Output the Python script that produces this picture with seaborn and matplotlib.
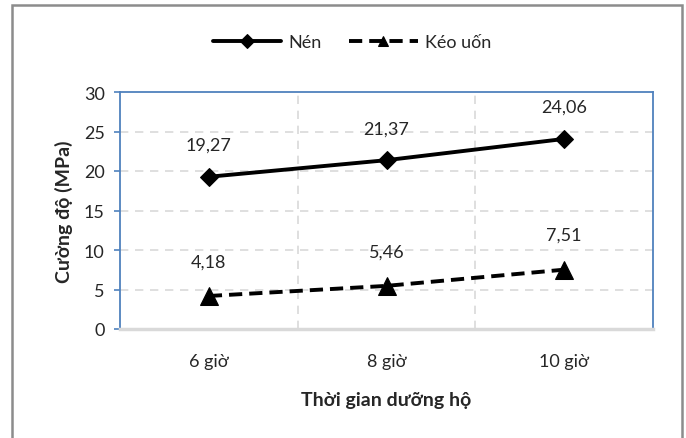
import matplotlib
matplotlib.use("Agg")
import matplotlib.pyplot as plt
import seaborn as sns
import pandas as pd
from matplotlib.patches import Rectangle

categories = ["6 giờ", "8 giờ", "10 giờ"]
nen = [19.27, 21.37, 24.06]
keo_uon = [4.18, 5.46, 7.51]
series_names = ["Nén", "Kéo uốn"]
y_ticks = [0, 5, 10, 15, 20, 25, 30]

sns.set_theme(style="white")
plt.rcParams['font.family'] = ['Lato', 'DejaVu Sans']

fig = plt.figure(figsize=(6.86, 4.39), dpi=100)
fig.patch.set_facecolor("white")
ax = fig.add_axes([120/686, 1-330/439, (653-120)/686, (330-93)/439])

df1 = pd.DataFrame({"x": categories, "y": nen})
df2 = pd.DataFrame({"x": categories, "y": keo_uon})

sns.lineplot(data=df1, x="x", y="y", ax=ax, color="black", lw=2.8,
             marker="D", markersize=9.5, markeredgecolor="black",
             label=series_names[0], sort=False)
sns.lineplot(data=df2, x="x", y="y", ax=ax, color="black", lw=2.8,
             marker="^", markersize=13, markeredgecolor="black",
             dashes=False, label=series_names[1], sort=False)
ax.lines[1].set_linestyle((0, (3.4, 1.8)))

for i, (a, b) in enumerate(zip(nen, keo_uon)):
    ax.annotate(f"{a:.2f}".replace(".", ","), (i, a), xytext=(0, 23),
                textcoords="offset points", ha="center", va="center", fontsize=13)
    ax.annotate(f"{b:.2f}".replace(".", ","), (i, b), xytext=(0, 25),
                textcoords="offset points", ha="center", va="center", fontsize=13)

ax.set_xlim(-0.5, 2.5)
ax.set_ylim(0, 30)
ax.set_yticks(y_ticks)
ax.set_yticklabels([str(t) for t in y_ticks], fontsize=13)
ax.set_xticks(range(len(categories)))
ax.set_xticklabels(categories, fontsize=13)

grid_kw = dict(color="#d9d9d9", lw=1.2, ls=(0, (5, 4)), zorder=0)
for t in y_ticks[1:-1]:
    ax.axhline(t, **grid_kw)
for v in [0.5, 1.5]:
    ax.axvline(v, **grid_kw)

blue = "#4f81bd"
for s in ["left", "top", "right"]:
    ax.spines[s].set_color(blue)
    ax.spines[s].set_linewidth(1.3)
ax.spines["bottom"].set_color("#d9d9d9")
ax.spines["bottom"].set_linewidth(2.5)

ax.tick_params(axis="y", length=4, width=1.2, color=blue, pad=7, left=True)
ax.tick_params(axis="x", length=0, pad=17)

ax.set_xlabel("Thời gian dưỡng hộ", fontsize=14, fontweight="bold", labelpad=16)
ax.set_ylabel("Cường độ (MPa)", fontsize=14, fontweight="bold", labelpad=8)

leg = ax.legend(loc="center", bbox_to_anchor=(352/686, 1-43/439),
                bbox_transform=fig.transFigure, ncol=2, frameon=False,
                fontsize=13, handlelength=3.8, handletextpad=0.4,
                columnspacing=1.5)
for h in leg.legend_handles:
    h.set_markersize(7)

fig.patches.append(Rectangle((12/686, -0.05), (682-12)/686, 1.05-6/439,
                             transform=fig.transFigure, fill=False,
                             edgecolor="#8c8c8c", lw=1.8, figure=fig))

fig.savefig("out.png", dpi=100, facecolor="white")
